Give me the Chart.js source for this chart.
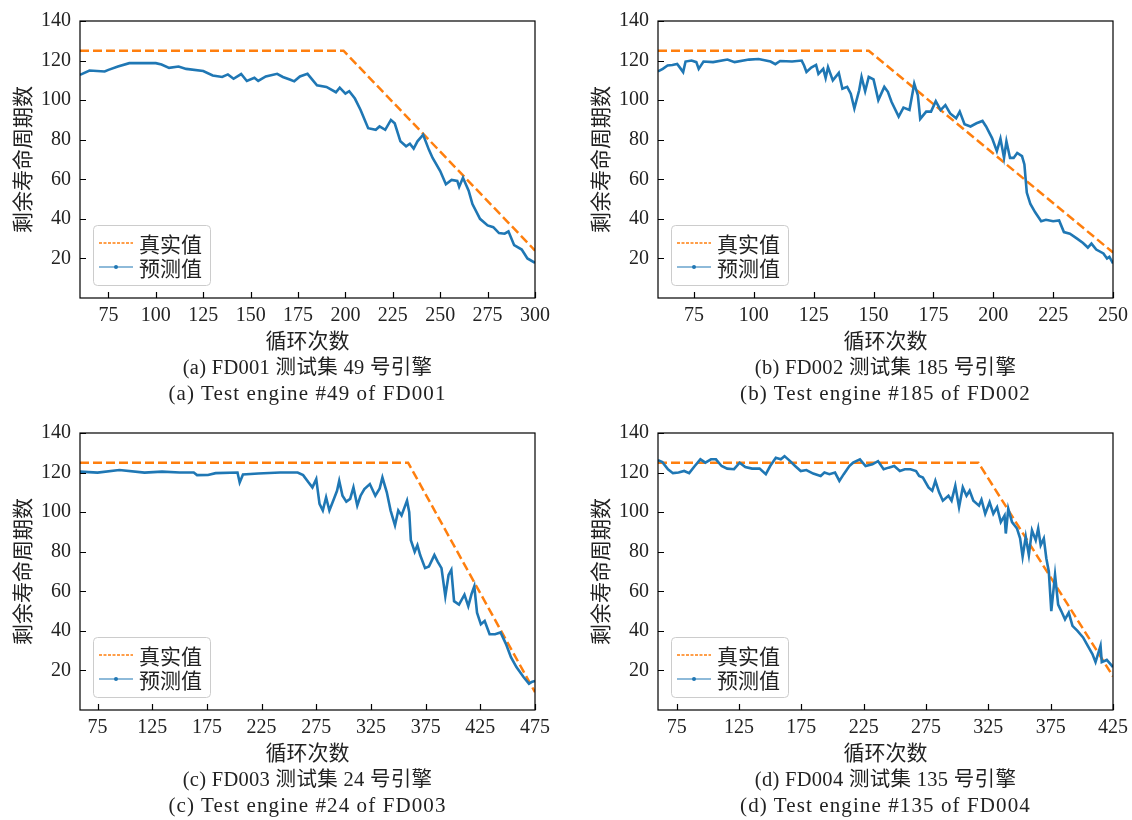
<!DOCTYPE html>
<html>
<head>
<meta charset="utf-8">
<script src="https://cdn.jsdelivr.net/npm/chart.js@4.4.1/dist/chart.umd.min.js"></script>
<style>
  body { margin: 0; background: #fff; width: 1132px; height: 820px; position: relative; overflow: hidden; }
  .panel { position: absolute; width: 566px; height: 360px; }
  .cap { position: absolute; width: 560px; text-align: center; white-space: nowrap;
         font-family: "Liberation Serif", "Noto Sans CJK SC"; color: #222; line-height: 26px; }
  .zh { font-size: 20.5px; letter-spacing: 0.3px; }
  .en { font-size: 21px; letter-spacing: 1.1px; }
</style>
</head>
<body>
<div class="panel" style="left:0;top:0"><canvas id="c1" width="566" height="360"></canvas></div>
<div class="panel" style="left:578px;top:0"><canvas id="c2" width="566" height="360"></canvas></div>
<div class="panel" style="left:0;top:412px"><canvas id="c3" width="566" height="360"></canvas></div>
<div class="panel" style="left:578px;top:412px"><canvas id="c4" width="566" height="360"></canvas></div>
<div id="caps"></div>
<script>
// ---- 数据 ----
const yTicks = [20, 40, 60, 80, 100, 120, 140];
const legendLabels = ['真实值', '预测值'];
const xTitle = '循环次数';
const yTitle = '剩余寿命周期数';
const captionsZh = ['(a) FD001 测试集 49 号引擎', '(b) FD002 测试集 185 号引擎',
                    '(c) FD003 测试集 24 号引擎', '(d) FD004 测试集 135 号引擎'];
const captionsEn = ['(a) Test engine #49 of FD001', '(b) Test engine #185 of FD002',
                    '(c) Test engine #24 of FD003', '(d) Test engine #135 of FD004'];

// FD001
const fd001XTicks = [75, 100, 125, 150, 175, 200, 225, 250, 275, 300];
const fd001TrueCycles = [60, 199, 300];
const fd001TrueRul = [125, 125, 24];
const fd001Cycles = [60,65,73,75,80,86,92,100,103,107,112,116,125,130,135,138,141,145,148,152,
  154,158,164,167,171,173,176,180,185,190,195,197,200,202,205,208,212,216,218,221,
  224,226,229,232,234,236,238,241,244,246,250,253,256,259,260,262,265,267,271,275,
  278,281,284,286,289,293,296,300];
const fd001Pred = [112.8,115,114.5,115.3,117,118.7,118.7,118.7,118,116.3,117,115.8,114.7,112.5,111.7,113,110.8,113.2,109.7,111.3,
  109.7,112,113.3,111.7,110.3,109.5,112,113.3,107.5,106.7,104,106.3,103.3,104.5,100.8,95,85.8,85,86.7,85,
  90,88.3,79.2,76.7,78,75.5,79.2,82.5,75,70.8,64.2,57.5,59.7,59.2,56.2,60.8,54.2,47.5,40,36.7,
  35.8,32.8,32.5,33.7,26.7,24.5,20,17.8];

// FD002
const fd002XTicks = [75, 100, 125, 150, 175, 200, 225, 250];
const fd002TrueCycles = [60, 148, 250];
const fd002TrueRul = [125, 125, 23];
const fd002Cycles = [60,62,64,66,68,69,70.5,71.5,74,76,77,79,83,89,92,98,102,107,109,111,
  116,120,121,122,124,126,127,129,130,131,133,135.5,137,139,140.5,142,144,145,146.5,148,
  150,152,154.5,156,157.5,160.5,162.5,165,167,168.5,169.5,172,174,176,178,180,182,184.5,186,188,
  190.5,193,195.5,197,199.5,201.5,203,204.5,205.5,207,208.5,210,212,213,214,215.5,217.5,220,222,225,
  227.5,229.5,232,235,237.5,239.5,241,243,246,247.5,248.5,250];
const fd002Pred = [114.5,115.8,117.5,117.8,118.3,116.7,114.2,119.5,120,119.2,115.8,119.5,119.2,120.5,119.2,120.5,120.8,119.5,118.2,119.8,
  119.5,120,117.5,114.2,116.5,117.8,113.3,115.8,111.2,116.7,110,113.8,105.8,106.7,103.3,95.8,105,111.7,104.5,111.7,
  110.5,100,106.7,104.2,99.2,91.7,96.2,95,108.3,102.5,90.5,94.2,94.2,99.5,95,97.5,93.3,90.8,94.2,87.8,
  86.7,88.3,89.5,86.7,80.8,74.2,80.5,70.8,79.2,70.8,70.8,73.3,71.7,67.5,53.3,47.5,43.3,38.8,39.5,38.8,
  39.2,33.3,32.5,30,27.8,25.5,27.5,24.5,22.5,20,20.8,17.5];

// FD003
const fd003XTicks = [75, 125, 175, 225, 275, 325, 375, 425, 475];
const fd003TrueCycles = [59, 359, 475];
const fd003TrueRul = [125, 125, 9];
const fd003Cycles = [59,75,95,118,134,150,163,166,176,183,203,205,208,222,242,258,263,268,271.5,275,
  278,281,284,287,290.5,294,296,299,302.5,306,309,312.5,315.5,319,324,329,333,335.5,339.5,343,
  347,350,353,358,360,361.5,365,367.5,370,374.5,378,383,386,389.5,393,396,398.5,401,405.5,410.5,
  414,417,419.5,422,425.5,429,433.5,438.5,443.5,448.5,453,458,464.5,469.5,472,475];
const fd003Pred = [120.5,120,121.3,120,120.5,120,120,118.7,118.8,119.7,120,115,119,119.5,120,120,118.7,115,112.5,116.7,
  104.2,100.8,107.5,100.8,105.8,110.8,115.8,108.3,105.3,106.7,112.5,103.3,108.3,111.7,114.2,108.3,112,117.5,110,100.8,
  93.3,100.8,98.3,105.8,100,85.8,80,83.3,78.3,71.7,72.5,78.3,75,71.7,57.5,68.3,70.8,55,53.3,58.3,
  52.5,58.7,62.5,49.2,43.3,45,38.3,38.3,39.2,33.3,26.7,21.7,16.7,13.3,14.2,14.7];

// FD004
const fd004XTicks = [75, 125, 175, 225, 275, 325, 375, 425];
const fd004TrueCycles = [60, 317, 425];
const fd004TrueRul = [125, 125, 17];
const fd004Cycles = [60,63.5,68,72,76.5,81,85,89.5,94,98,102.5,106.5,111,115.5,121,125.5,130,135.5,141.5,146.5,
  150,154.5,158.5,161.5,166,170,174.5,179,184.5,190.5,193.5,197.5,202,205.5,209,213.5,216.5,222,226.5,232,
  236.5,241,245,249.5,254,258,262.5,267,269.5,272.5,277,280,282.5,285.5,288.5,293,295.5,298.5,301.5,304.5,
  307.5,310,313,317.5,319.5,322.5,326,329,332,335,338,339,341,344,348,350.5,352.5,355,357.5,360,
  363,365,367,369.5,371.5,373.5,375.5,378.5,381,383.5,386.5,389.5,392.5,396.5,401,404,408.5,411,415,416,
  420,425];
const fd004Pred = [126.3,125.3,121.7,119.7,120,120.8,119.7,123.3,126.7,125,126.7,126.7,123.3,122,121.7,125,122.8,122,122,119.2,
  123.3,127.5,126.7,128.3,125.8,123.3,120.8,121.3,119.5,118.3,120,119.2,120,115.8,119.2,123.3,125,126.7,123.3,124.2,
  125.8,121.7,122.5,123.3,120.8,121.7,121.7,120.8,118.3,117.5,112.5,110.8,115.8,110,105.8,108.3,105.8,113.3,102.5,112.5,
  108.3,110.8,105.8,103.3,106.3,99.2,105,99.2,102.5,95,98.3,89.2,101.7,95,91.7,86.7,77.5,87.5,78.3,90.8,
  85.8,91.7,83.3,86.7,76.7,70,50,68.3,53.3,50,45.8,49.2,42.5,40,36.7,33.3,28.3,24.2,32.5,24.2,
  25.3,21.7];

const BLUE = '#1f77b4';
const ORANGE = '#ff7f0e';
const SERIF = 'Liberation Serif';
const CJK = 'Noto Sans CJK SC';

// 坐标框 + 向内刻度
const framePlugin = {
  id: 'frame',
  afterDraw(chart) {
    const { ctx, chartArea: a, scales: { x, y } } = chart;
    ctx.save();
    ctx.strokeStyle = '#000';
    ctx.lineWidth = 1.2;
    ctx.strokeRect(a.left, a.top, a.right - a.left, a.bottom - a.top);
    ctx.beginPath();
    x.ticks.forEach(t => {
      const px = Math.round(x.getPixelForValue(t.value)) + 0.5;
      ctx.moveTo(px, a.bottom); ctx.lineTo(px, a.bottom - 6);
    });
    y.ticks.forEach(t => {
      const py = Math.round(y.getPixelForValue(t.value)) + 0.5;
      ctx.moveTo(a.left, py); ctx.lineTo(a.left + 6, py);
    });
    ctx.stroke();
    ctx.restore();
  }
};

// 图例（左下角）
const legendPlugin = {
  id: 'boxLegend',
  afterDraw(chart) {
    const { ctx, chartArea: a } = chart;
    const w = 117, h = 60;
    const bx = a.left + 13, by = a.bottom - 13 - h;
    ctx.save();
    ctx.beginPath();
    ctx.roundRect(bx + 0.5, by + 0.5, w, h, 4);
    ctx.fillStyle = 'rgba(255,255,255,0.8)';
    ctx.fill();
    ctx.strokeStyle = '#cccccc';
    ctx.lineWidth = 1;
    ctx.stroke();

    const r1 = by + 18, r2 = by + 42;
    ctx.beginPath();
    ctx.setLineDash([3, 1.5]);
    ctx.strokeStyle = ORANGE;
    ctx.lineWidth = 1.5;
    ctx.moveTo(bx + 6, r1); ctx.lineTo(bx + 40, r1);
    ctx.stroke();
    ctx.setLineDash([]);
    ctx.beginPath();
    ctx.strokeStyle = BLUE;
    ctx.lineWidth = 1.2;
    ctx.moveTo(bx + 6, r2); ctx.lineTo(bx + 40, r2);
    ctx.stroke();
    ctx.beginPath();
    ctx.fillStyle = BLUE;
    ctx.arc(bx + 23, r2, 2, 0, Math.PI * 2);
    ctx.fill();

    ctx.fillStyle = '#222';
    ctx.font = '21px "' + CJK + '"';
    ctx.textBaseline = 'middle';
    ctx.fillText(legendLabels[0], bx + 46, r1 + 1);
    ctx.fillText(legendLabels[1], bx + 46, r2 + 1);
    ctx.restore();
  }
};

function pts(xs, ys) {
  return xs.map((v, i) => ({ x: v, y: ys[i] }));
}

function makeChart(id, cycles, pred, trueCycles, trueRul, xMin, xMax, xTicks) {
  new Chart(document.getElementById(id), {
    type: 'line',
    data: {
      datasets: [
        { label: legendLabels[1], data: pts(cycles, pred), borderColor: BLUE, borderWidth: 2.6,
          pointRadius: 0, tension: 0, order: 0 },
        { label: legendLabels[0], data: pts(trueCycles, trueRul), borderColor: ORANGE, borderWidth: 2.5,
          borderDash: [9, 4], pointRadius: 0, tension: 0, order: 1 }
      ]
    },
    options: {
      responsive: false,
      animation: false,
      events: [],
      layout: { padding: { top: 18, right: 31, left: 0, bottom: 0 } },
      plugins: { legend: { display: false }, tooltip: { enabled: false } },
      scales: {
        x: {
          type: 'linear', min: xMin, max: xMax,
          afterBuildTicks: s => { s.ticks = xTicks.map(v => ({ value: v })); },
          afterFit: s => { s.height = 62; },
          grid: { display: false, drawTicks: false }, border: { display: false },
          ticks: { font: { family: SERIF, size: 20 }, color: '#222', padding: 6, maxRotation: 0, autoSkip: false },
          title: { display: true, text: xTitle, font: { family: CJK, size: 21 }, color: '#222',
                   padding: { top: 0, bottom: 7 } }
        },
        y: {
          type: 'linear', min: 0, max: 140,
          afterBuildTicks: s => { s.ticks = yTicks.map(v => ({ value: v })); },
          afterFit: s => { s.width = 80; },
          grid: { display: false, drawTicks: false }, border: { display: false },
          ticks: { font: { family: SERIF, size: 20 }, color: '#222', padding: 9 },
          title: { display: true, text: yTitle, font: { family: CJK, size: 21 }, color: '#222',
                   padding: { top: 9, bottom: 0 } }
        }
      }
    },
    plugins: [framePlugin, legendPlugin]
  });
}

makeChart('c1', fd001Cycles, fd001Pred, fd001TrueCycles, fd001TrueRul, 60, 300, fd001XTicks);
makeChart('c2', fd002Cycles, fd002Pred, fd002TrueCycles, fd002TrueRul, 60, 250, fd002XTicks);
makeChart('c3', fd003Cycles, fd003Pred, fd003TrueCycles, fd003TrueRul, 59, 475, fd003XTicks);
makeChart('c4', fd004Cycles, fd004Pred, fd004TrueCycles, fd004TrueRul, 60, 425, fd004XTicks);

// 子图标题
const panelPos = [[0, 0], [578, 0], [0, 412], [578, 412]];
const caps = document.getElementById('caps');
panelPos.forEach((p, i) => {
  [[captionsZh[i], 354, 'zh'], [captionsEn[i], 380, 'en']].forEach(([txt, top, cls]) => {
    const d = document.createElement('div');
    d.className = 'cap ' + cls;
    d.style.left = (p[0] + 307.5 - 280) + 'px';
    d.style.top = (p[1] + top) + 'px';
    d.textContent = txt;
    caps.appendChild(d);
  });
});
</script>
</body>
</html>
